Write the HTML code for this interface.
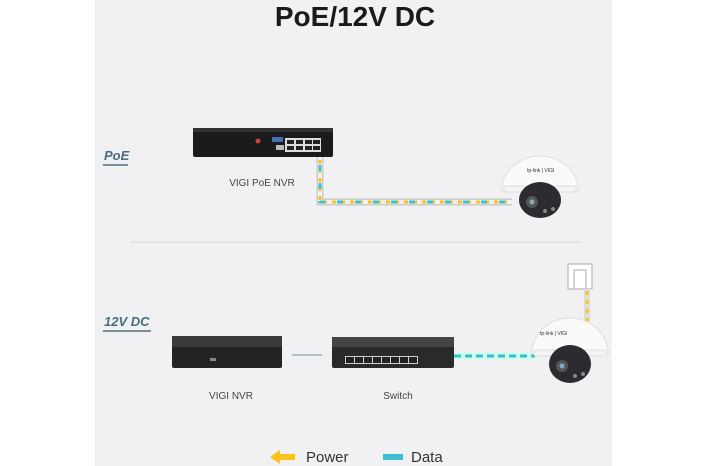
<!DOCTYPE html>
<html><head><style>
html,body{margin:0;padding:0;background:#fff;}
svg{display:block;font-family:"Liberation Sans",sans-serif;}
</style></head><body>
<svg width="709" height="466" viewBox="0 0 709 466" xmlns="http://www.w3.org/2000/svg">
<rect x="0" y="0" width="709" height="466" fill="#fff"/>
<rect x="95" y="0" width="517" height="466" fill="#f1f1f3"/>
<text x="355" y="26" text-anchor="middle" font-size="28" font-weight="bold" fill="#1a1a1a">PoE/12V DC</text>

<text x="104" y="160" font-size="13" font-style="italic" font-weight="bold" fill="#4a6d7e">PoE</text>
<line x1="103" y1="165" x2="128" y2="165" stroke="#4a6d7e" stroke-width="1.5"/>
<rect x="193" y="130" width="140" height="27" rx="2" fill="#1b1b1d"/>
<rect x="193" y="128" width="140" height="4" fill="#333"/>
<rect x="285" y="138" width="36" height="14" fill="#ddd"/>
<g fill="#222"><rect x="287" y="140" width="7" height="4"/><rect x="296" y="140" width="7" height="4"/><rect x="305" y="140" width="7" height="4"/><rect x="313" y="140" width="7" height="4"/><rect x="287" y="146" width="7" height="4"/><rect x="296" y="146" width="7" height="4"/><rect x="305" y="146" width="7" height="4"/><rect x="313" y="146" width="7" height="4"/></g>
<rect x="272" y="137" width="11" height="5" fill="#4a6fb0"/>
<circle cx="258" cy="141" r="2.5" fill="#c44"/>
<rect x="276" y="145" width="8" height="5" fill="#bbb"/>
<text x="262" y="186" text-anchor="middle" font-size="10" fill="#444">VIGI PoE NVR</text>
<path d="M320 157 V202 H512" fill="none" stroke="#ccc" stroke-width="7"/>
<path d="M320 157 V202 H512" fill="none" stroke="#f1f1f3" stroke-width="4"/>
<path d="M320 160 V202 H512" fill="none" stroke="#ffc21a" stroke-width="3" stroke-dasharray="4 5"/>
<path d="M320 165 V202 H512" fill="none" stroke="#3cc0d0" stroke-width="3" stroke-dasharray="6 12"/>
<!-- Camera 1 -->
<path d="M502 190 A38 34 0 0 1 578 190 Z" fill="#fafafa" stroke="#ddd"/>
<rect x="504" y="186" width="72" height="6" rx="2" fill="#f4f4f4" stroke="#ddd"/>
<ellipse cx="540" cy="200" rx="21" ry="18" fill="#2c2c30"/>
<circle cx="532" cy="202" r="6" fill="#555"/><circle cx="532" cy="202" r="2.5" fill="#8ab"/>
<circle cx="545" cy="211" r="2" fill="#888"/><circle cx="553" cy="209" r="2" fill="#888"/>
<text x="527" y="172" font-size="5" fill="#333">tp-link | VIGI</text>

<line x1="130" y1="242" x2="580" y2="242" stroke="#d8d8da" stroke-width="1"/>

<text x="104" y="326" font-size="13" font-style="italic" font-weight="bold" fill="#4a6d7e">12V DC</text>
<line x1="103" y1="331" x2="151" y2="331" stroke="#4a6d7e" stroke-width="1.5"/>
<rect x="172" y="336" width="110" height="32" rx="2" fill="#232325"/>
<rect x="172" y="336" width="110" height="11" fill="#3a3a3c"/>
<rect x="210" y="358" width="6" height="3" fill="#888"/>
<text x="231" y="399" text-anchor="middle" font-size="10" fill="#444">VIGI NVR</text>
<line x1="292" y1="355" x2="322" y2="355" stroke="#4a6d7e" stroke-width="0.8"/>
<rect x="332" y="337" width="122" height="31" rx="2" fill="#2a2a2c"/>
<rect x="332" y="337" width="122" height="10" fill="#444"/>
<g fill="#ccc"><rect x="345" y="356" width="73" height="8"/></g>
<g fill="#222"><rect x="346" y="357" width="8" height="6"/><rect x="355" y="357" width="8" height="6"/><rect x="364" y="357" width="8" height="6"/><rect x="373" y="357" width="8" height="6"/><rect x="382" y="357" width="8" height="6"/><rect x="391" y="357" width="8" height="6"/><rect x="400" y="357" width="8" height="6"/><rect x="409" y="357" width="8" height="6"/></g>
<text x="398" y="399" text-anchor="middle" font-size="10" fill="#444">Switch</text>
<line x1="454" y1="356" x2="535" y2="356" stroke="#cfe" stroke-width="7"/>
<line x1="454" y1="356" x2="535" y2="356" stroke="#3cc0d0" stroke-width="3" stroke-dasharray="7 4"/>
<rect x="568" y="264" width="24" height="25" fill="#fff" stroke="#aaa"/>
<path d="M574 289 V270 H586 V289" fill="none" stroke="#aaa"/>
<line x1="587" y1="289" x2="587" y2="322" stroke="#ddd" stroke-width="6"/>
<line x1="587" y1="291" x2="587" y2="322" stroke="#ffc21a" stroke-width="3" stroke-dasharray="4 5"/>
<!-- camera 2 -->
<path d="M532 354 A38 36 0 0 1 608 354 Z" fill="#fafafa" stroke="#ddd"/>
<rect x="534" y="350" width="72" height="6" rx="2" fill="#f4f4f4" stroke="#ddd"/>
<ellipse cx="570" cy="364" rx="21" ry="19" fill="#2c2c30"/>
<circle cx="562" cy="366" r="6" fill="#555"/><circle cx="562" cy="366" r="2.5" fill="#8ab"/>
<circle cx="575" cy="376" r="2" fill="#888"/><circle cx="583" cy="374" r="2" fill="#888"/>
<text x="540" y="335" font-size="5" fill="#333">tp-link | VIGI</text>

<path d="M270 457 L280 450 V454 H295 V460 H280 V464 Z" fill="#ffc21a"/>
<text x="306" y="462" font-size="15" fill="#333">Power</text>
<rect x="383" y="454" width="20" height="6" fill="#3cc0d0"/>
<text x="411" y="462" font-size="15" fill="#333">Data</text>
</svg>
</body></html>
